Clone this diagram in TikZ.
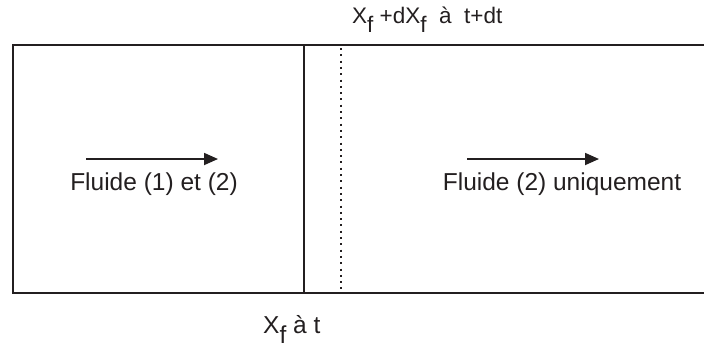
\documentclass[tikz,border=0pt]{standalone}
\usepackage{fontspec}
\setmainfont{Liberation Sans}
\usetikzlibrary{arrows.meta}
\definecolor{ink}{RGB}{35,31,32}
\newcommand{\lowf}{\raisebox{-0.42em}{f}}
\tikzset{
  wall/.style={draw=ink, line width=2.1pt},
  front/.style={draw=ink, line width=2pt, dash pattern=on 2pt off 4.3pt},
  flow/.style={draw=ink, line width=1.8pt, -{Triangle[length=14pt,width=12pt]}},
  lab/.style={text=ink, inner sep=0pt, font=\fontsize{24.5}{28}\selectfont},
  smalllab/.style={text=ink, inner sep=0pt, font=\fontsize{22.5}{26}\selectfont}
}
\begin{document}
\begin{tikzpicture}[x=1pt, y=-1pt]
\useasboundingbox (0,0) rectangle (704,349);
\coordinate (tl) at (13,45);
\coordinate (bl) at (13,293);
\coordinate (tr) at (704,45);
\coordinate (br) at (704,293);
\coordinate (st) at (304,45);
\coordinate (sb) at (304,293);
\coordinate (dt) at (341,48);
\coordinate (db) at (341,293);
\draw[wall] (tr) -- (tl) -- (bl) -- (br);
\draw[wall] (st) -- (sb);
\draw[front] (dt) -- (db);
\coordinate (a1s) at (86,159);
\coordinate (a1e) at (218,159);
\coordinate (a2s) at (467,159);
\coordinate (a2e) at (599,159);
\draw[flow] (a1s) -- (a1e);
\draw[flow] (a2s) -- (a2e);
\node[lab, anchor=base] (t1) at (154,190) {Fluide (1) et (2)};
\node[lab, anchor=base] (t2) at (562,190) {Fluide (2) uniquement};
\node[smalllab, anchor=base west] (top) at (352,23) {X\lowf\ +dX\lowf\ \ à\ \ t+dt};
\node[lab, anchor=base west] (bot) at (263,333) {X\lowf\ à t};
\end{tikzpicture}
\end{document}
